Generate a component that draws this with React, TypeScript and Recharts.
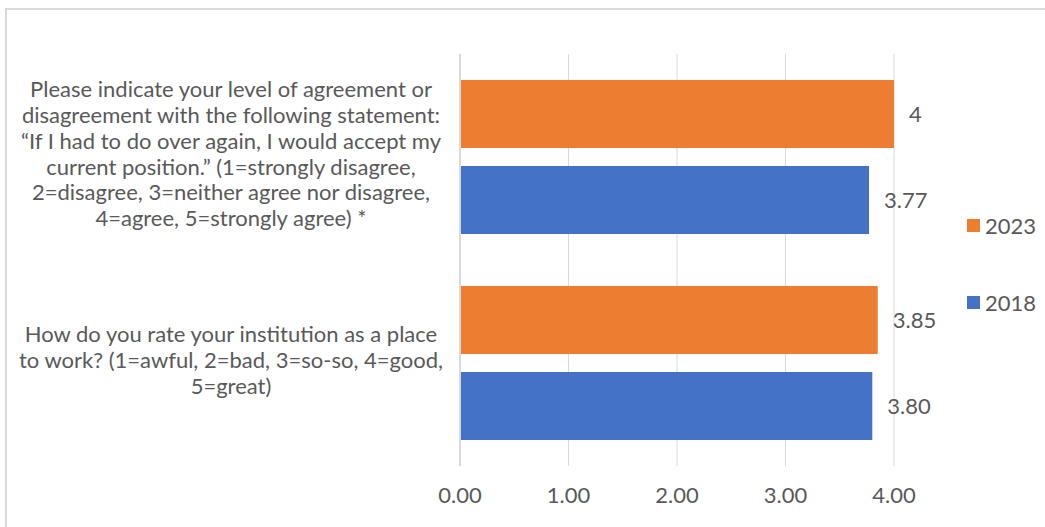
import React from 'react';
import { BarChart, Bar, XAxis, YAxis, CartesianGrid, Legend, LabelList } from 'recharts';

const categories = [
  'Please indicate your level of agreement or disagreement with the following statement: “If I had to do over again, I would accept my current position.” (1=strongly disagree, 2=disagree, 3=neither agree nor disagree, 4=agree, 5=strongly agree) *',
  'How do you rate your institution as a place to work? (1=awful, 2=bad, 3=so-so, 4=good, 5=great)',
];

const categoryLines = [
  [
    'Please indicate your level of agreement or',
    'disagreement with the following statement:',
    '“If I had to do over again, I would accept my',
    'current position.” (1=strongly disagree,',
    '2=disagree, 3=neither agree nor disagree,',
    '4=agree, 5=strongly agree) *',
  ],
  [
    'How do you rate your institution as a place',
    'to work? (1=awful, 2=bad, 3=so-so, 4=good,',
    '5=great)',
  ],
];

const values2023 = [4, 3.85];
const values2018 = [3.77, 3.8];
const xTicks = [0, 1, 2, 3, 4];
const legendOrder = ['2023', '2018'];

const data = categories.map((name, i) => ({
  name,
  y2023: values2023[i],
  y2018: values2018[i],
}));

const FONT = 'Lato, "Open Sans", sans-serif';
const TEXT = '#595959';
const GRID = '#D9D9D9';

const YTick = (props: any) => {
  const { y, payload } = props;
  const idx = categories.indexOf(payload.value);
  const lines = categoryLines[idx] || [payload.value];
  const pitch = 25.8;
  const cy = y - 3;
  return (
    <text textAnchor="middle" fill={TEXT} fontSize={22} fontFamily={FONT}>
      {lines.map((l, i) => (
        <tspan key={i} x={231} y={cy + (i - (lines.length - 1) / 2) * pitch} dy="0.35em">
          {l}
        </tspan>
      ))}
    </text>
  );
};

const XTick = (props: any) => {
  const { x, y, payload } = props;
  return (
    <text x={x} y={y + 29} textAnchor="middle" fill={TEXT} fontSize={22} fontFamily={FONT}>
      {Number(payload.value).toFixed(2)}
    </text>
  );
};

const LegendContent = (props: any) => {
  const items = [...(props.payload || [])].sort(
    (a: any, b: any) => legendOrder.indexOf(a.value) - legendOrder.indexOf(b.value)
  );
  return (
    <div style={{ fontFamily: FONT, fontSize: 22, color: TEXT }}>
      {items.map((p: any, i: number) => (
        <div key={i} style={{ display: 'flex', alignItems: 'center', height: 27, marginBottom: i === 0 ? 50 : 0 }}>
          <span style={{ display: 'inline-block', width: 13, height: 13, background: p.color, marginRight: 5 }} />
          <span>{p.value}</span>
        </div>
      ))}
    </div>
  );
};

export default function App() {
  return (
    <div style={{ position: 'absolute', left: 0, top: 0, width: 1045, height: 527, background: '#fff', overflow: 'hidden' }}>
      <div
        style={{
          position: 'absolute',
          left: 5,
          top: 8,
          width: 1100,
          height: 600,
          borderTop: `2px solid ${GRID}`,
          borderLeft: `2px solid ${GRID}`,
        }}
      />
      <div style={{ position: 'absolute', left: 0, top: 0 }}>
        <BarChart
          width={1045}
          height={527}
          data={data}
          layout="vertical"
          margin={{ top: 54, right: 151, bottom: 0, left: 0 }}
          barCategoryGap={26}
          barGap={18}
        >
          <CartesianGrid horizontal={false} stroke={GRID} />
          <XAxis
            type="number"
            domain={[0, 4]}
            ticks={xTicks}
            axisLine={false}
            tickLine={false}
            height={61}
            tick={<XTick />}
          />
          <YAxis
            type="category"
            dataKey="name"
            width={460}
            axisLine={{ stroke: GRID, strokeWidth: 2 }}
            tickLine={false}
            tick={<YTick />}
            interval={0}
          />
          <Legend
            layout="vertical"
            verticalAlign="middle"
            align="center"
            wrapperStyle={{ left: 967, top: 212, width: 80 }}
            content={<LegendContent />}
          />
          <Bar dataKey="y2023" name="2023" fill="#ED7D31" isAnimationActive={false}>
            <LabelList
              dataKey="y2023"
              position="right"
              offset={15}
              fill={TEXT}
              fontSize={22}
              fontFamily={FONT}
              formatter={(v: any) => String(v)}
            />
          </Bar>
          <Bar dataKey="y2018" name="2018" fill="#4472C4" isAnimationActive={false}>
            <LabelList
              dataKey="y2018"
              position="right"
              offset={15}
              fill={TEXT}
              fontSize={22}
              fontFamily={FONT}
              formatter={(v: any) => Number(v).toFixed(2)}
            />
          </Bar>
        </BarChart>
      </div>
    </div>
  );
}
